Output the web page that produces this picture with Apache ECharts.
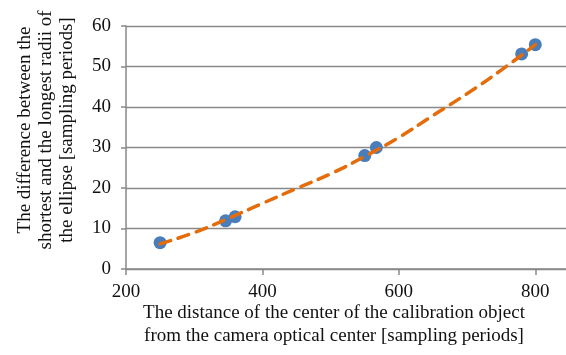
<!DOCTYPE html>
<html>
<head>
<meta charset="utf-8">
<script src="https://cdn.jsdelivr.net/npm/echarts@6/dist/echarts.min.js"></script>
<style>
  html, body { margin: 0; padding: 0; background: #fff; }
  #container { width: 566px; height: 355px; }
</style>
</head>
<body>
<div id="container"></div>
<script>
// measured points
let distance = [250, 346, 360, 550, 567, 780, 800];
let radiiDiff = [6.5, 11.9, 12.9, 28.0, 30.0, 53.1, 55.4];

// trend line
let trendX = [250, 300, 350, 400, 450, 500, 550, 600, 650, 700, 750, 800];
let trendY = [6.2, 9.0, 12.5, 16.2, 19.9, 23.5, 27.8, 32.5, 37.9, 43.3, 49.1, 55.4];

let xTicks = [200, 400, 600, 800];
let yTicks = [0, 10, 20, 30, 40, 50, 60];

let serif = '"Liberation Serif", "DejaVu Serif", serif';
let gray = '#898989';

var myChart = echarts.init(document.getElementById('container'));

let option = {
  animation: false,
  grid: {
    left: 126,
    right: 0,
    top: 26,
    bottom: 86,
  },
  xAxis: {
    type: 'value',
    min: 200,
    max: 845,
    interval: 200,
    axisLine: { lineStyle: { color: gray, width: 1.5 } },
    axisTick: { show: true, length: 6, lineStyle: { color: gray, width: 1.5 } },
    splitLine: { show: false },
    axisLabel: {
      showMaxLabel: false,
      margin: 14,
      color: '#111',
      fontFamily: serif,
      fontSize: 19,
      formatter: (v) => (xTicks.includes(v) ? String(v) : ''),
    },
  },
  yAxis: {
    type: 'value',
    min: 0,
    max: 60,
    interval: 10,
    axisLine: { show: true, lineStyle: { color: gray, width: 1.5 } },
    axisTick: { show: true, length: 5, inside: false, lineStyle: { color: gray, width: 1.5 } },
    splitLine: { show: true, lineStyle: { color: gray, width: 1.3 } },
    axisLabel: {
      margin: 15,
      color: '#111',
      fontFamily: serif,
      fontSize: 19,
      formatter: (v) => (yTicks.includes(v) ? String(v) : ''),
    },
  },
  graphic: [
    {
      type: 'text',
      x: 334,
      y: 325,
      style: {
        text: 'The distance of the center of the calibration object\nfrom the camera optical center [sampling periods]',
        font: '19px ' + serif,
        fill: '#111',
        align: 'center',
        verticalAlign: 'middle',
        lineHeight: 23,
      },
    },
    {
      type: 'text',
      x: 46,
      y: 130,
      rotation: Math.PI / 2,
      style: {
        text: 'The difference between the\nshortest and the longest radii of\nthe ellipse [sampling periods]',
        font: '19px ' + serif,
        fill: '#111',
        align: 'center',
        verticalAlign: 'middle',
        lineHeight: 21,
      },
    },
  ],
  series: [
    {
      name: 'points',
      type: 'scatter',
      data: distance.map((d, i) => [d, radiiDiff[i]]),
      symbolSize: 13,
      itemStyle: { color: '#4a7ebb', opacity: 1 },
      z: 2,
    },
    {
      name: 'trend',
      type: 'line',
      data: trendX.map((d, i) => [d, trendY[i]]),
      smooth: true,
      showSymbol: false,
      lineStyle: { color: '#e46c0a', width: 3.5, type: [11, 8], cap: 'round' },
      z: 3,
    },
  ],
};

myChart.setOption(option);
</script>
</body>
</html>
